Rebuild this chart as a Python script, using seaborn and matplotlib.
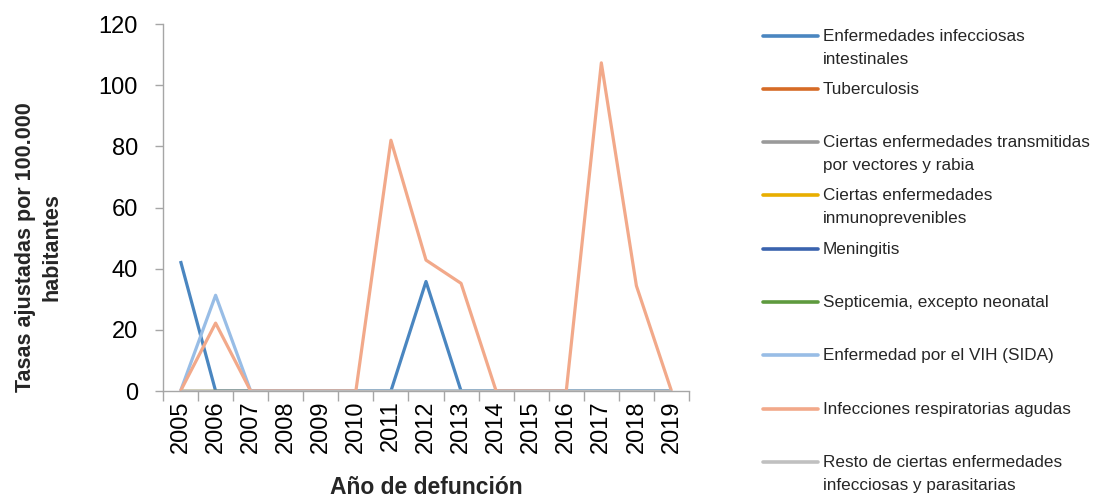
import matplotlib
matplotlib.use("Agg")
import matplotlib.pyplot as plt
from matplotlib.lines import Line2D
import numpy as np
import pandas as pd
import seaborn as sns

# Rates per 100,000 inhabitants by year of death
years = [2005, 2006, 2007, 2008, 2009, 2010, 2011, 2012, 2013, 2014, 2015, 2016, 2017, 2018, 2019]
intestinales = [42.5, 0, 0, 0, 0, 0, 0, 35.8, 0, 0, 0, 0, 0, 0, 0]
tuberculosis = [0, 0, 0, 0, 0, 0, 0, 0, 0, 0, 0, 0, 0, 0, 0]
vectores = [0, 0, 0, 0, 0, 0, 0, 0, 0, 0, 0, 0, 0, 0, 0]
inmunoprevenibles = [0, 0, 0, 0, 0, 0, 0, 0, 0, 0, 0, 0, 0, 0, 0]
meningitis = [0, 0, 0, 0, 0, 0, 0, 0, 0, 0, 0, 0, 0, 0, 0]
septicemia = [0, 0, 0, 0, 0, 0, 0, 0, 0, 0, 0, 0, 0, 0, 0]
vih = [0, 31.3, 0, 0, 0, 0, 0, 0, 0, 0, 0, 0, 0, 0, 0]
respiratorias = [0, 22.2, 0, 0, 0, 0, 82.0, 42.8, 35.2, 0, 0, 0, 107.3, 34.4, 0]
resto = [0, 0, 0, 0, 0, 0, 0, 0, 0, 0, 0, 0, 0, 0, 0]

series_names = [
    "Enfermedades infecciosas\nintestinales",
    "Tuberculosis",
    "Ciertas enfermedades transmitidas\npor vectores y rabia",
    "Ciertas enfermedades\ninmunoprevenibles",
    "Meningitis",
    "Septicemia, excepto neonatal",
    "Enfermedad por el VIH (SIDA)",
    "Infecciones respiratorias agudas",
    "Resto de ciertas enfermedades\ninfecciosas y parasitarias",
]
series_values = [intestinales, tuberculosis, vectores, inmunoprevenibles,
                 meningitis, septicemia, vih, respiratorias, resto]
colors = ["#4A86C0", "#D66B26", "#9A9A9A", "#E8AE00", "#3A63AE",
          "#5E9A3E", "#98BDE6", "#F2A98A", "#C0C0C0"]

sns.set_theme(style="white")
plt.rcParams["font.family"] = ["Liberation Sans", "DejaVu Sans"]

rows = []
for name, vals in zip(series_names, series_values):
    for i, v in enumerate(vals):
        rows.append({"pos": i, "year": years[i], "serie": name, "tasa": v})
df = pd.DataFrame(rows)

W, H = 1093, 498
fig = plt.figure(figsize=(W / 100, H / 100), dpi=100)
ax_l, ax_r, ax_t, ax_b = 163, 689, 24, 391
ax = fig.add_axes([ax_l / W, (H - ax_b) / H, (ax_r - ax_l) / W, (ax_b - ax_t) / H])

for name, col in zip(series_names, colors):
    sns.lineplot(data=df[df["serie"] == name], x="pos", y="tasa", color=col,
                 linewidth=2.3, ax=ax, legend=False, solid_capstyle="butt")

ax.set_xlim(-0.5, len(years) - 0.5)
ax.set_ylim(0, 120)
ax.set_yticks(np.arange(0, 121, 20))
ax.set_xticks(range(len(years)))
ax.set_xticklabels([str(y) for y in years], rotation=90)
ax.set_xticks(np.arange(-0.5, len(years), 1.0), minor=True)

for side in ["top", "right"]:
    ax.spines[side].set_visible(False)
for side in ["left", "bottom"]:
    ax.spines[side].set_color("#A6A6A6")
    ax.spines[side].set_linewidth(1.0)

ax.tick_params(axis="y", which="major", left=True, length=6, width=1, color="#A6A6A6",
               labelsize=17, labelcolor="black", pad=12)
ax.tick_params(axis="x", which="major", bottom=False, length=0, labelsize=17,
               labelcolor="black", pad=7)
ax.tick_params(axis="x", which="minor", bottom=True, length=7, width=1, color="#A6A6A6")

ax.set_xlabel("Año de defunción", fontsize=16.5, fontweight="bold")
ax.xaxis.set_label_coords((426 - ax_l) / (ax_r - ax_l), (ax_b - 487) / (ax_b - ax_t))
ax.xaxis.label.set_va("center")

ax.set_ylabel("Tasas ajustadas por 100.000\nhabitantes", fontsize=15.5,
              fontweight="bold", linespacing=1.35)
ax.yaxis.set_label_coords((39 - ax_l) / (ax_r - ax_l), (ax_b - 247) / (ax_b - ax_t))
ax.yaxis.label.set_va("center")

# Legend column on the right: swatch aligned with the first text line
leg_y = [36, 89, 142, 195, 249, 302, 355, 409, 462]
for name, col, y in zip(series_names, colors, leg_y):
    yf = 1 - y / H
    fig.add_artist(Line2D([763 / W, 818 / W], [yf, yf], color=col, linewidth=2.6,
                          transform=fig.transFigure, solid_capstyle="round"))
    fig.text(823 / W, yf + 7 / H, name, fontsize=12.3, va="top", ha="left",
             linespacing=1.68, transform=fig.transFigure)

fig.savefig("out.png", dpi=100)
